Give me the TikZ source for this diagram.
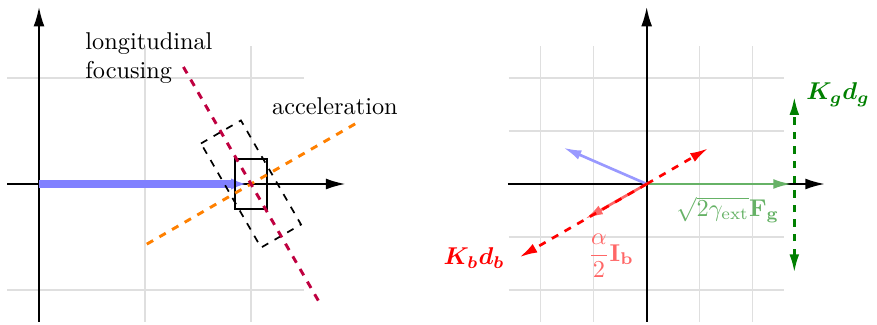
\documentclass[tikz,border=0pt]{standalone}
\usepackage{amsmath,bm}
\usetikzlibrary{arrows.meta}
\begin{document}
\begin{tikzpicture}[x=1.533cm,y=1.533cm,
  gridline/.style={gray!25,line width=0.5pt},
  axis/.style={black,line width=0.75pt,-{Latex[length=8pt,width=4.5pt]}},
  vec/.style={line width=1.1pt,-{Latex[length=7.5pt,width=4pt]}},
  dvec/.style={line width=1.1pt,dashed,-{Latex[length=7.5pt,width=4pt]}},
  lbl/.style={inner sep=0pt}]
\useasboundingbox (-0.368,-1.330) rectangle (7.906,1.736);
% ---------- left plot ----------
\draw[gridline] (-0.3,-1.3) grid[step=1] (2.5,1.3);
\coordinate (O1) at (0,0);
\coordinate (C) at (2,0);
\coordinate (xl) at (-0.3,0);
\coordinate (xr) at (2.89,0);
\coordinate (yb) at (0,-1.3);
\coordinate (yt) at (0,1.67);
\draw[axis] (xl) -- (xr);
\draw[axis] (yb) -- (yt);
\coordinate (B) at (1.95,0);
\draw[blue!50,line width=3.3pt,-{Latex[length=6pt,width=4.8pt]}] (O1) -- (B);
\draw[black,line width=0.7pt,dashed,rotate around={-60:(C)}] (1.433,-0.2175) rectangle (2.567,0.2175);
\draw[black,line width=0.8pt] (1.845,-0.24) rectangle (2.155,0.24);
\coordinate (acc1) at (1.017,-0.5675);
\coordinate (acc2) at (2.983,0.5675);
\coordinate (foc1) at (1.3625,1.104);
\coordinate (foc2) at (2.6375,-1.104);
\draw[orange,very thick,dashed] (acc1) -- (acc2);
\draw[purple,very thick,dashed] (foc1) -- (foc2);
\node[lbl,anchor=north west,align=left] (lf) at (0.434,1.434) {longitudinal\\focusing};
\node[lbl,anchor=north west] (la) at (2.195,0.824) {acceleration};
% ---------- right plot ----------
\begin{scope}[shift={(5.733,0)}]
\draw[gridline] (-1.3,-1.3) grid[step=0.5] (1.3,1.3);
\coordinate (O2) at (0,0);
\coordinate (xl2) at (-1.31,0);
\coordinate (xr2) at (1.68,0);
\coordinate (yb2) at (0,-1.3);
\coordinate (yt2) at (0,1.67);
\draw[axis] (xl2) -- (xr2);
\draw[axis] (yb2) -- (yt2);
\coordinate (lb) at (-0.787,0.343);
\coordinate (ib) at (-0.582,-0.330);
\coordinate (ru) at (0.581,0.337);
\coordinate (rd) at (-1.202,-0.692);
\coordinate (fg) at (1.368,0);
\coordinate (gt) at (1.393,0.824);
\coordinate (gb) at (1.393,-0.837);
\draw[vec,blue!40] (O2) -- (lb);
\draw[vec,red!60] (O2) -- (ib);
\draw[vec,green!50!black!60] (O2) -- (fg);
\draw[dvec,red] (O2) -- (ru);
\draw[dvec,red] (O2) -- (rd);
\draw[dvec,green!50!black,{Latex[length=7.5pt,width=4pt]}-{Latex[length=7.5pt,width=4pt]}] (gb) -- (gt);
\node[lbl,anchor=west,text=green!50!black] (kg) at (1.503,0.845) {$\bm{K_g d_g}$};
\node[lbl,text=red] (kb) at (-1.628,-0.698) {$\bm{K_b d_b}$};
\node[lbl,text=red!60] (ia) at (-0.337,-0.679) {$\dfrac{\alpha}{2}\mathbf{I}_{\mathbf{b}}$};
\node[lbl,text=green!50!black!60] (fl) at (0.765,-0.245) {$\sqrt{2\gamma_{\text{ext}}}\mathbf{F}_{\mathbf{g}}$};
\end{scope}
\end{tikzpicture}
\end{document}
